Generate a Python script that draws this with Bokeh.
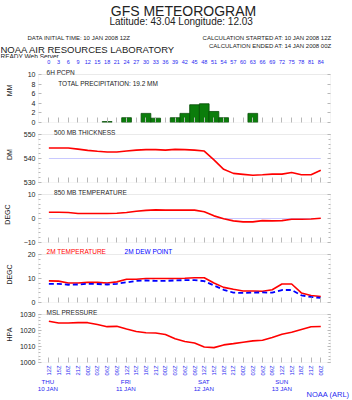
import math
from bokeh.plotting import figure
from bokeh.layouts import column
from bokeh.models import Range1d, FixedTicker, LinearAxis, BoxAnnotation
from bokeh.core.properties import value
from bokeh.embed import file_html
from bokeh.resources import INLINE

# ---------------- data ----------------
hours = [0, 3, 6, 9, 12, 15, 18, 21, 24, 27, 30, 33, 36, 39, 42, 45, 48, 51, 54,
         57, 60, 63, 66, 69, 72, 75, 78, 81, 84]
forecast_hour_labels = ["0", "3", "6", "9", "12", "15", "18", "21", "24", "27", "30",
                        "33", "36", "39", "42", "45", "48", "51", "54", "57", "60", "63",
                        "66", "69", "72", "75", "78", "81", "84"]
hour_tick_labels = ["12Z", "15Z", "18Z", "21Z", "00Z", "03Z", "06Z", "09Z",
                    "12Z", "15Z", "18Z", "21Z", "00Z", "03Z", "06Z", "09Z",
                    "12Z", "15Z", "18Z", "21Z", "00Z", "03Z", "06Z", "09Z",
                    "12Z", "15Z", "18Z", "21Z", "00Z"]
day_hours = [0, 24, 48, 72]
day_names = ["THU", "FRI", "SAT", "SUN"]
day_dates = ["10 JAN", "11 JAN", "12 JAN", "13 JAN"]

precip_hours = [18, 24, 30, 33, 39, 42, 45, 48, 51, 54, 63]
precip_mm = [0.2, 1.0, 1.9, 0.9, 1.0, 1.9, 3.7, 3.9, 2.3, 1.0, 1.9]

thickness_dm = [544.4, 544.4, 544.4, 543.9, 543.4, 543.0, 542.7, 542.7, 543.1, 543.5,
                543.7, 543.7, 543.5, 543.8, 543.7, 543.5, 543.1, 539.4, 535.5, 533.8,
                533.4, 533.0, 533.2, 533.5, 533.5, 534.2, 533.2, 533.2, 535.1]
t850_c = [2.6, 2.6, 2.5, 2.1, 2.1, 2.1, 2.1, 2.2, 2.5, 3.0, 3.4, 3.6, 3.5, 3.5, 3.5,
          3.5, 2.8, 1.1, -0.1, -1.0, -1.4, -1.4, -0.9, -1.0, -0.9, -0.3, -0.3, -0.2, 0.1]
t2m_c = [9.0, 8.9, 8.1, 8.1, 8.4, 8.4, 8.1, 8.6, 9.7, 9.7, 10.0, 10.0, 10.0, 10.0, 10.1,
         10.3, 10.3, 8.1, 6.3, 5.5, 4.8, 4.8, 4.7, 5.3, 7.7, 7.7, 4.0, 2.9, 2.5]
dewpt_c = [7.8, 7.8, 7.4, 7.5, 7.8, 7.7, 7.5, 7.8, 8.4, 9.0, 9.2, 9.0, 9.0, 9.2, 9.3,
           9.3, 8.9, 7.1, 5.3, 4.1, 4.0, 4.1, 4.2, 4.1, 5.2, 5.2, 3.0, 2.3, 1.9]
mslp_hpa = [1025.8, 1024.7, 1024.7, 1024.9, 1024.9, 1023.7, 1022.4, 1022.6, 1020.9,
            1019.4, 1018.6, 1018.4, 1017.5, 1014.8, 1013.1, 1012.2, 1009.7, 1009.3,
            1011.0, 1011.8, 1012.7, 1013.5, 1013.9, 1015.6, 1017.7, 1018.9, 1020.6,
            1022.3, 1022.5]

total_precip_text = "TOTAL PRECIPITATION:  19.2 MM"
thickness_ref = 540
t850_ref = 0

# ---------------- style / layout ----------------
FONT = "Liberation Sans"
BLUE = "#2a2af0"
RED = "#ff0000"
GRAY = "#b8b8b8"
REFC = "#c8c8ff"
TXT = "#222222"
W = 352
LEFT, RIGHT = 37, 22
FRAME_W = W - LEFT - RIGHT
DATA_H = 48
X0, X1 = -3.2, 87.0
PPH = FRAME_W / (X1 - X0)             # pixels per forecast hour
XE0, XE1 = X0 - LEFT / PPH, X1 + RIGHT / PPH   # range spanning the full canvas width


def make_panel(ext, bottom, ymin, ymax, majors, minors, ylabel, lab_standoff):
    upp = (ymax - ymin) / DATA_H       # data units per pixel
    p = figure(width=W, height=ext + DATA_H + bottom, x_range=Range1d(X0, X1),
               y_range=Range1d(ymin, ymax + ext * upp),
               output_backend="svg", toolbar_location=None,
               min_border_left=LEFT, min_border_right=RIGHT,
               min_border_top=0, min_border_bottom=bottom)
    p.grid.visible = False
    p.outline_line_color = None
    p.background_fill_color = "white"
    p.border_fill_color = "white"
    p.add_layout(BoxAnnotation(bottom=ymin, top=ymax, fill_color=None, fill_alpha=0,
                               line_color=GRAY, line_width=1))
    xa = p.xaxis[0]
    xa.ticker = FixedTicker(ticks=hours)
    xa.major_tick_in = 5
    xa.major_tick_out = 0
    xa.minor_tick_line_color = None
    xa.axis_line_color = None
    xa.major_tick_line_color = GRAY
    xa.major_label_text_color = None
    xa.major_label_text_font_size = "0px"
    xa.major_label_standoff = 0
    ya = p.yaxis[0]
    ya.bounds = (ymin, ymax)
    ya.ticker = FixedTicker(ticks=majors, minor_ticks=minors)
    ya.major_tick_in = 3
    ya.major_tick_out = 0
    ya.minor_tick_in = 2
    ya.minor_tick_out = 0
    ya.axis_line_color = None
    ya.major_tick_line_color = GRAY
    ya.minor_tick_line_color = GRAY
    ya.major_label_text_font = FONT
    ya.major_label_text_font_size = "7px"
    ya.major_label_text_color = TXT
    ya.major_label_standoff = 3
    ya.axis_label = ylabel
    ya.axis_label_text_font = FONT
    ya.axis_label_text_font_size = "7px"
    ya.axis_label_text_font_style = "normal"
    ya.axis_label_text_color = TXT
    ya.axis_label_standoff = lab_standoff
    ra = LinearAxis(ticker=FixedTicker(ticks=majors, minor_ticks=minors),
                    bounds=(ymin, ymax),
                    major_tick_in=3, major_tick_out=0, minor_tick_in=2, minor_tick_out=0,
                    axis_line_color=None, major_tick_line_color=GRAY,
                    minor_tick_line_color=GRAY, major_label_text_color=None,
                    major_label_text_font_size="0px", major_label_standoff=0)
    p.add_layout(ra, "right")
    return p, upp


def ptext(p, x, y, t, size="6.5px", color=TXT, align="left"):
    p.text(x=[x], y=[y], text=[t], text_font=value(FONT), text_font_size=size,
           text_color=color, text_align=align, text_baseline="middle")


def bare_figure(height, xr, yr):
    f = figure(width=W, height=height, x_range=xr, y_range=yr,
               x_axis_location=None, y_axis_location=None,
               output_backend="svg", toolbar_location=None, min_border=0)
    f.grid.visible = False
    f.outline_line_color = None
    return f


# ---------------- header ----------------
HDR_H = 58
hdr = bare_figure(HDR_H, Range1d(0, W), Range1d(HDR_H, 0))


def htext(x, y, t, size, align="left", color=TXT):
    hdr.text(x=[x], y=[y], text=[t], text_font=value(FONT), text_font_size=size,
             text_align=align, text_baseline="alphabetic", text_color=color)


htext(183, 10, "GFS METEOROGRAM", "14px", "center")
htext(182, 20.5, "Latitude: 43.04 Longitude:  12.03", "10px", "center")
htext(27, 37.7, "DATA INITIAL TIME: 10 JAN 2008 12Z", "6px")
htext(331, 37.7, "CALCULATION STARTED AT: 10 JAN 2008 12Z", "6px", "right")
htext(331, 45.3, "CALCULATION ENDED AT: 14 JAN 2008 00Z", "6px", "right")
htext(0, 49.3, "NOAA AIR RESOURCES LABORATORY", "9.5px")
htext(0, 55.5, "READY Web Server", "6.5px")

# ---------------- panel 1: precipitation ----------------
p1, u1 = make_panel(16, 4, 0, 10, [0, 2, 4, 6, 8, 10], [], "MM", 12)
p1.vbar(x=precip_hours, top=precip_mm, width=3, fill_color="#0b7d0b",
        line_color="#064d06", line_width=0.8)
ptext(p1, 2.9, 10 - 8.7 * u1, total_precip_text)
ptext(p1, -0.7, 10 + 2.3 * u1, "6H PCPN")
p1.text(x=hours, y=[10 + 12.7 * u1] * len(hours), text=forecast_hour_labels,
        text_font=value(FONT), text_font_size="5.5px", text_color=BLUE,
        text_align="center", text_baseline="middle")

# ---------------- panel 2: 500 mb thickness ----------------
p2, u2 = make_panel(8, 4, 530, 550, [530, 540, 550], list(range(530, 551, 2)), "DM", 8)
p2.line(x=[hours[0], hours[-1]], y=[thickness_ref, thickness_ref], line_color=REFC, line_width=1)
p2.line(x=hours, y=thickness_dm, line_color=RED, line_width=1.6)
ptext(p2, 1.6, 550 + 2.3 * u2, "500 MB  THICKNESS")

# ---------------- panel 3: 850 mb temperature ----------------
p3, u3 = make_panel(8, 4, -10, 10, [-10, 0, 10], list(range(-10, 11, 2)), "DEGC", 10)
p3.line(x=[hours[0], hours[-1]], y=[t850_ref, t850_ref], line_color=REFC, line_width=1)
p3.line(x=hours, y=t850_c, line_color=RED, line_width=1.6)
ptext(p3, 1.6, 10 + 2.0 * u3, "850 MB  TEMPERATURE")

# ---------------- panel 4: 2m temperature / dew point ----------------
p4, u4 = make_panel(8, 4, 0, 20, [0, 10, 20], list(range(0, 21, 2)), "DEGC", 12)
p4.line(x=hours, y=t2m_c, line_color=RED, line_width=1.6)
p4.line(x=hours, y=dewpt_c, line_color="#0000ff", line_width=1.8, line_dash="5 3")
ptext(p4, -0.7, 20 + 3.3 * u4, "2M TEMPERATURE", color=RED)
ptext(p4, 23.4, 20 + 3.3 * u4, "2M  DEW POINT", color="#0000ff")

# ---------------- panel 5: MSL pressure ----------------
p5, u5 = make_panel(8, 16, 1000, 1030, [1000, 1010, 1020, 1030],
                    list(range(1000, 1031, 2)), "HPA", 4)
p5.line(x=hours, y=mslp_hpa, line_color=RED, line_width=1.6)
ptext(p5, -0.7, 1030 + 2.3 * u5, "MSL PRESSURE")
xa5 = p5.xaxis[0]
xa5.major_label_overrides = {h: lab for h, lab in zip(hours, hour_tick_labels)}
xa5.major_label_orientation = math.pi / 2
xa5.major_label_text_font = FONT
xa5.major_label_text_font_size = "5.8px"
xa5.major_label_text_color = BLUE
xa5.major_label_standoff = 3

# ---------------- footer ----------------
FTR_H = 22
ftr = bare_figure(FTR_H, Range1d(XE0, XE1), Range1d(FTR_H, 0))
ftr.text(x=day_hours, y=[3.3] * len(day_hours), text=day_names, text_font=value(FONT),
         text_font_size="6.2px", text_color=BLUE, text_align="center", text_baseline="middle")
ftr.text(x=day_hours, y=[10.3] * len(day_hours), text=day_dates, text_font=value(FONT),
         text_font_size="6.2px", text_color=BLUE, text_align="center", text_baseline="middle")
ftr.text(x=[X0 + (349 - LEFT) / PPH], y=[16], text=["NOAA (ARL)"], text_font=value(FONT),
         text_font_size="7.5px", text_color=BLUE, text_align="right", text_baseline="middle")

panels = column(p1, p2, p3, p4, p5, spacing=0)
layout = column(column(hdr), panels, column(ftr), spacing=0)
open("out.html", "w").write(file_html(layout, INLINE))
